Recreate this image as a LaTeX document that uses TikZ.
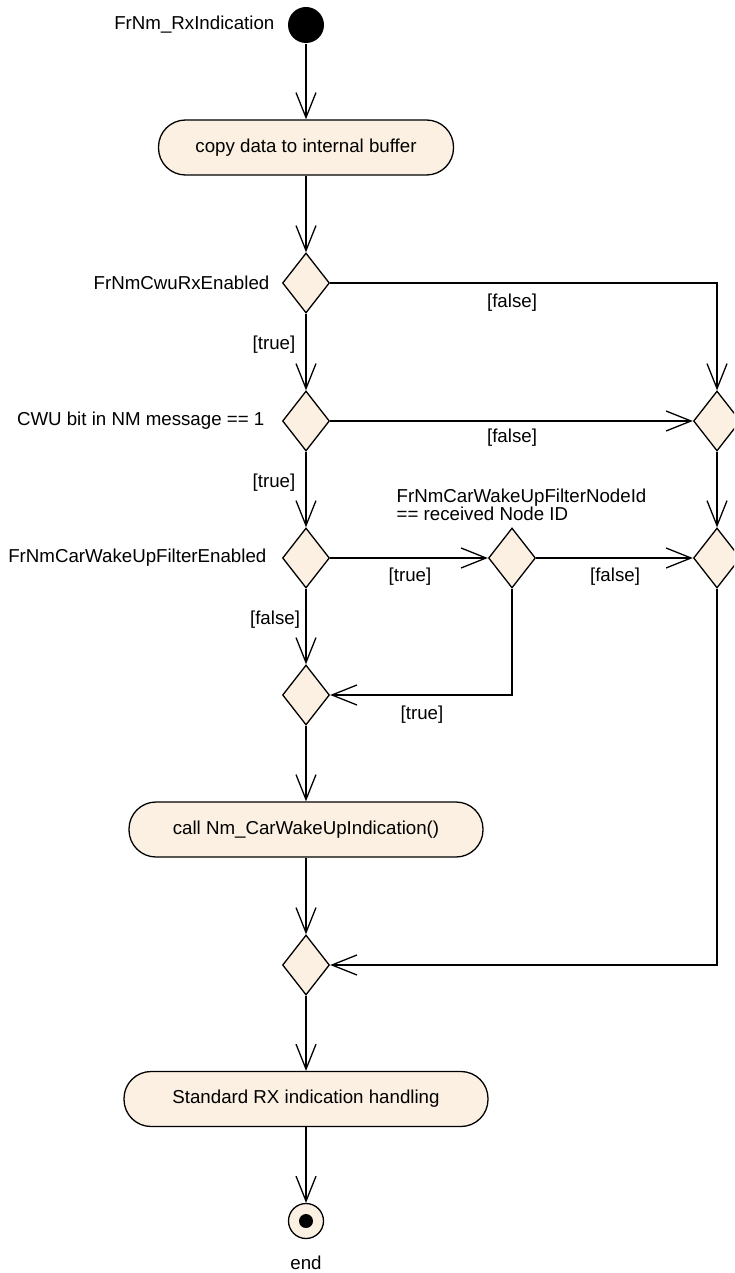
\documentclass[tikz,border=0pt]{standalone}
\usepackage{fontspec}
\setmainfont{Liberation Sans}
\usetikzlibrary{shapes.geometric,arrows.meta}
\definecolor{actfill}{HTML}{FBF0E1}
\begin{document}
\begin{tikzpicture}[x=1pt,y=-1pt,
  font=\fontsize{18.7}{18}\selectfont,
  line width=1.3pt,
  act/.style={draw, rounded corners=27pt, fill=actfill, minimum height=55pt, inner sep=0pt},
  dec/.style={draw, diamond, fill=actfill, minimum width=47pt, minimum height=60pt, inner sep=0pt},
  flow/.style={-{Straight Barb[length=25pt,width=20pt]}},
  lbl/.style={inner sep=0pt}]
\path[use as bounding box] (0,0) rectangle (734,1273);
\clip (0,0) rectangle (734,1273);

% nodes
\node[circle, fill=black, minimum size=36pt, inner sep=0pt] (start) at (306,25) {};
\node[lbl, anchor=east] (startlbl) at (275,25) {FrNm\_RxIndication};
\node[act, minimum width=295pt] (a1) at (306,147.5) {copy data to internal buffer};

\node[dec] (d1) at (306,283) {};
\node[lbl, anchor=east] (d1l) at (270,283) {FrNmCwuRxEnabled};
\node[dec] (d2) at (306,421) {};
\node[lbl, anchor=east] (d2l) at (265,421) {CWU bit in NM message == 1};
\node[dec] (d3) at (306,558) {};
\node[lbl, anchor=east] (d3l) at (267,558) {FrNmCarWakeUpFilterEnabled};
\node[dec] (cmp) at (512,558) {};
\node[lbl, anchor=west, align=left] (cmpl) at (396,505) {FrNmCarWakeUpFilterNodeId\\== received Node ID};
\node[dec] (r1) at (717,421) {};
\node[dec] (r2) at (717,558) {};
\node[dec] (d4) at (306,695) {};
\node[act, minimum width=354pt] (a2) at (306,829.5) {call Nm\_CarWakeUpIndication()};
\node[dec] (d5) at (306,965) {};
\node[act, minimum width=364pt] (a3) at (306,1099) {Standard RX indication handling};
\node[circle, draw, fill=actfill, minimum size=35pt, inner sep=0pt] (end) at (306,1221) {};
\node[circle, fill=black, minimum size=14pt, inner sep=0pt] (enddot) at (end) {};
\node[lbl] (endl) at (306,1263) {end};

% connectors
\draw[flow] (start) -- (a1);
\draw[flow] (a1) -- (d1);
\draw[flow] (d1.east) -| (r1.north);
\node[lbl] (f1) at (512,303) {[false]};
\draw[flow] (d1) -- (d2);
\node[lbl] (t1) at (274,345) {[true]};
\draw[flow] (d2) -- (r1);
\node[lbl] (f2) at (512,438) {[false]};
\draw[flow] (d2) -- (d3);
\node[lbl] (t2) at (274,483) {[true]};
\draw[flow] (r1) -- (r2);
\draw[flow] (d3) -- (cmp);
\node[lbl] (t3) at (410,577) {[true]};
\draw[flow] (cmp) -- (r2);
\node[lbl] (f3) at (615,577) {[false]};
\draw[flow] (d3) -- (d4);
\node[lbl] (f4) at (275,620) {[false]};
\draw[flow] (cmp.south) |- (d4.east);
\node[lbl] (t4) at (422,715) {[true]};
\draw[flow] (d4) -- (a2);
\draw[flow] (a2) -- (d5);
\draw[flow] (r2.south) |- (d5.east);
\draw[flow] (d5) -- (a3);
\draw[flow] (a3) -- (end);
\end{tikzpicture}
\end{document}
